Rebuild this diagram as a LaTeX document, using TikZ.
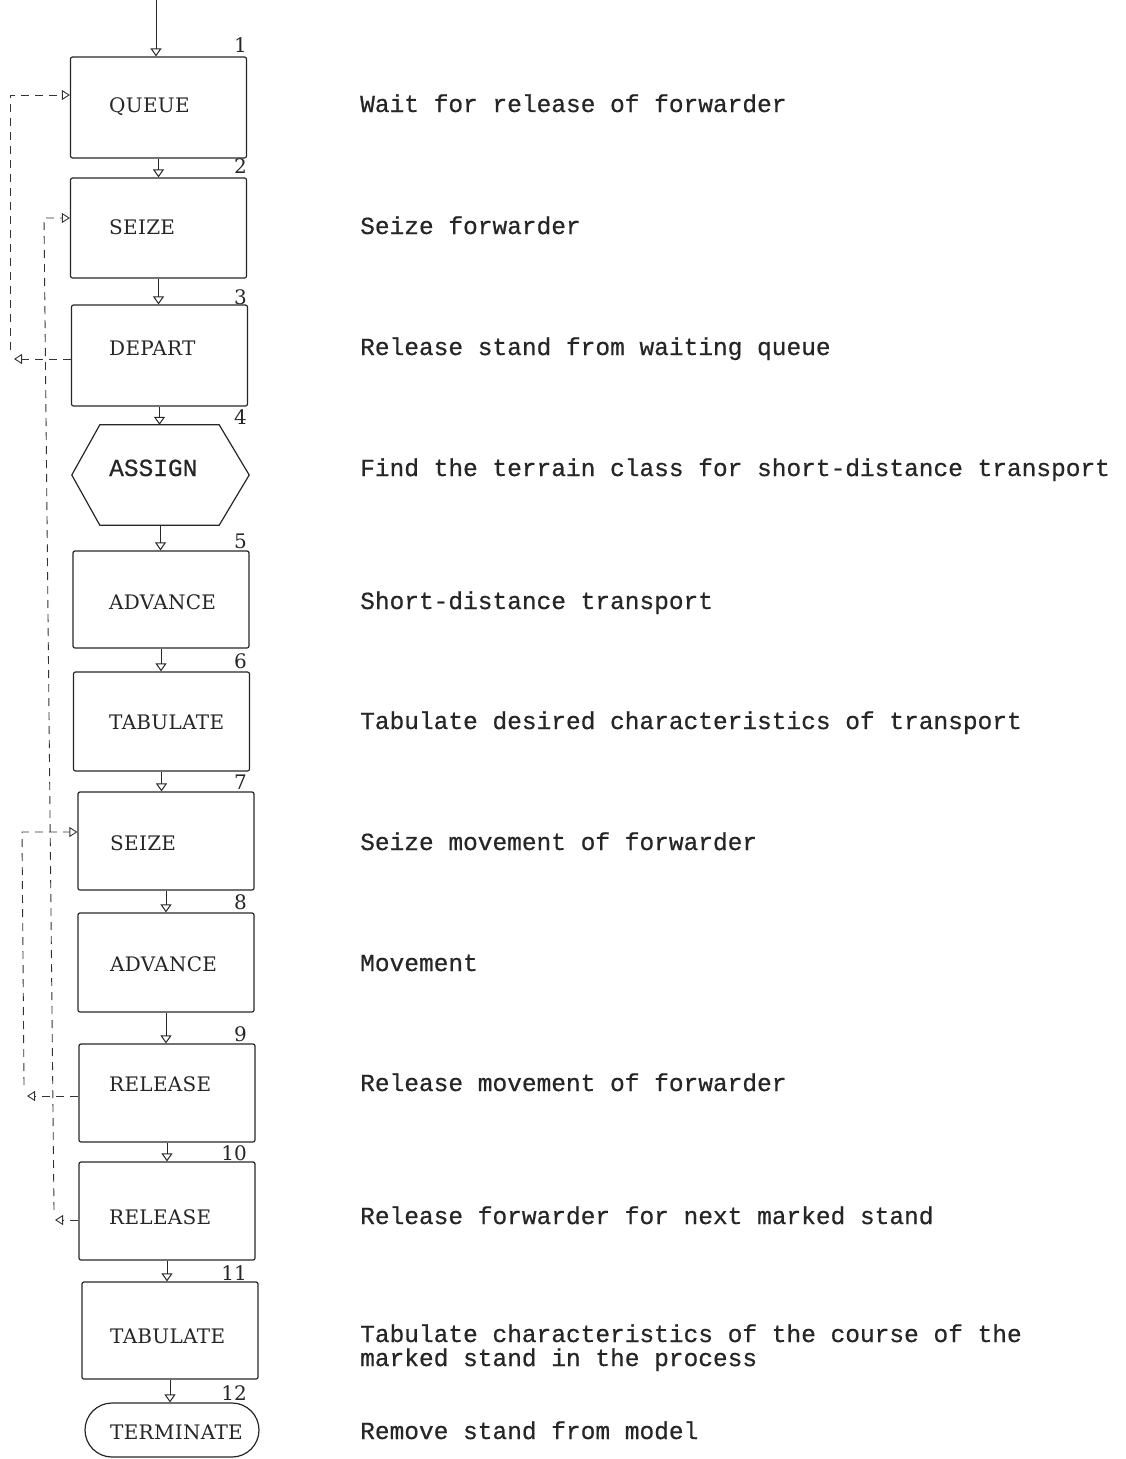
\documentclass[tikz,border=0pt]{standalone}
\usepackage{fontspec}
\newfontfamily\descfont[FakeBold=0.6]{Liberation Mono}
\newfontfamily\lblfont[LetterSpace=1.5]{DejaVu Serif}
\newfontfamily\numfont{DejaVu Serif}
\usetikzlibrary{arrows.meta,calc,shapes.misc}
\begin{document}
\begin{tikzpicture}[x=1pt,y=-1pt,
  ink/.style={draw=black!85, line width=1.2pt},
  box/.style={ink, rectangle, rounded corners=2pt, minimum width=176pt, inner sep=0pt},
  flow/.style={draw=black!85, line width=1pt, -{Triangle[open,width=11pt,length=8pt]}},
  fb/.style={draw=black!80, line width=0.9pt, dash pattern=on 8pt off 6pt, -{Triangle[open,width=10pt,length=8pt]}},
  lbl/.style={anchor=base west, inner sep=0pt, font=\lblfont\fontsize{20}{24}\selectfont, text=black!85},
  desc/.style={anchor=base west, inner sep=0pt, font=\descfont\fontsize{24.5}{24}\selectfont, text=black!85},
  num/.style={anchor=base east, inner sep=0pt, font=\numfont\fontsize{20}{24}\selectfont, text=black!85}]
\useasboundingbox (0,0) rectangle (1126,1459);

% blocks
\node[box, minimum height=101pt] (b1) at (158.5,107.5) {};
\node[box, minimum height=100pt] (b2) at (158.5,228) {};
\node[box, minimum height=101pt] (b3) at (159.5,355.5) {};
\node[minimum width=177pt, minimum height=100pt, inner sep=0pt] (b4) at (160.5,475) {};
\draw[ink] ($(b4.north west)+(28,0)$) -- ($(b4.north east)+(-30,0)$) -- (b4.east)
  -- ($(b4.south east)+(-30,0)$) -- ($(b4.south west)+(28,0)$) -- (b4.west) -- cycle;
\node[box, minimum height=97pt] (b5) at (161,599.5) {};
\node[box, minimum height=99pt] (b6) at (161.5,721.5) {};
\node[box, minimum height=98pt] (b7) at (166,841) {};
\node[box, minimum height=99pt] (b8) at (166,962.5) {};
\node[box, minimum height=98pt] (b9) at (167,1093) {};
\node[box, minimum height=98pt] (b10) at (167,1211) {};
\node[box, minimum height=97pt] (b11) at (170,1330.5) {};
\node[ink, rounded rectangle, minimum width=174pt, minimum height=54pt, inner sep=0pt] (b12) at (172,1430) {};

% block labels
\node[lbl] (l1) at (109,112) {QUEUE};
\node[lbl] (l2) at (109,234) {SEIZE};
\node[lbl] (l3) at (109,355) {DEPART};
\node[desc] (l4) at (109,476) {ASSIGN};
\node[lbl] (l5) at (109,609) {ADVANCE};
\node[lbl] (l6) at (109,729) {TABULATE};
\node[lbl] (l7) at (110,850) {SEIZE};
\node[lbl] (l8) at (110,971) {ADVANCE};
\node[lbl] (l9) at (109,1091) {RELEASE};
\node[lbl] (l10) at (109,1224) {RELEASE};
\node[lbl] (l11) at (110,1343) {TABULATE};
\node[lbl] (l12) at (110,1439) {TERMINATE};

% numbers
\node[num] (n1) at (247,52) {1};
\node[num] (n2) at (247,173) {2};
\node[num] (n3) at (247,304) {3};
\node[num] (n4) at (247,424) {4};
\node[num] (n5) at (247,548) {5};
\node[num] (n6) at (247,668) {6};
\node[num] (n7) at (247,789) {7};
\node[num] (n8) at (247,909) {8};
\node[num] (n9) at (247,1041) {9};
\node[num] (n10) at (247,1160) {10};
\node[num] (n11) at (247,1280) {11};
\node[num] (n12) at (247,1400) {12};

% descriptions
\node[desc] (d1) at (360,112) {Wait for release of forwarder};
\node[desc] (d2) at (360,234) {Seize forwarder};
\node[desc] (d3) at (360,355) {Release stand from waiting queue};
\node[desc] (d4) at (360,476) {Find the terrain class for short-distance transport};
\node[desc] (d5) at (360,609) {Short-distance transport};
\node[desc] (d6) at (360,729) {Tabulate desired characteristics of transport};
\node[desc] (d7) at (360,850) {Seize movement of forwarder};
\node[desc] (d8) at (360,971) {Movement};
\node[desc] (d9) at (360,1091) {Release movement of forwarder};
\node[desc] (d10) at (360,1224) {Release forwarder for next marked stand};
\node[desc] (d11a) at (360,1342) {Tabulate characteristics of the course of the};
\node[desc] (d11b) at (360,1366) {marked stand in the process};
\node[desc] (d12) at (360,1439) {Remove stand from model};

% main flow
\coordinate (top) at (156,0);
\draw[flow] (top) -- (top |- b1.north);
\draw[flow] (b1.south) -- (b1.south |- b2.north);
\draw[flow] (b2.south) -- (b2.south |- b3.north);
\draw[flow] (b3.south) -- (b3.south |- b4.north);
\draw[flow] (b4.south) -- (b4.south |- b5.north);
\draw[flow] (b5.south) -- (b5.south |- b6.north);
\draw[flow] (b6.south) -- (b6.south |- b7.north);
\draw[flow] (b7.south) -- (b7.south |- b8.north);
\draw[flow] (b8.south) -- (b8.south |- b9.north);
\draw[flow] (b9.south) -- (b9.south |- b10.north);
\draw[flow] (b10.south) -- (b10.south |- b11.north);
\draw[flow] (b11.south) -- (b11.south |- b12.north);

% feedback (dashed) connections
\coordinate (aBot) at (10,350);
\coordinate (aTop) at (10,95);
\coordinate (aTip) at (14,359);
\coordinate (bTop) at (44,218);
\coordinate (bBot) at (54,1210);
\coordinate (bTip) at (55,1220);
\coordinate (cTop) at (22,832);
\coordinate (cBot) at (24,1085);
\coordinate (cTip) at (27,1096);
\draw[fb] (b3.west |- aTip) -- (aTip);
\draw[fb] (aBot) -- (aTop) -- (b1.west |- aTop);
\draw[fb] (b10.west |- bTip) -- (bTip);
\draw[fb] (bBot) -- (bTop) -- (b2.west |- bTop);
\draw[fb] (b9.west |- cTip) -- (cTip);
\draw[fb] (cBot) -- (cTop) -- (b7.west |- cTop);
\end{tikzpicture}
\end{document}
